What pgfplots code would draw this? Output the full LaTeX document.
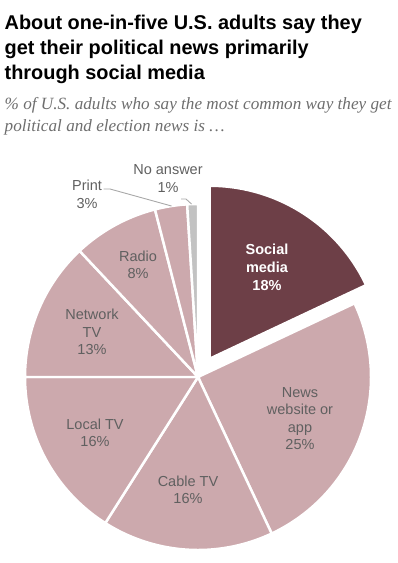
\documentclass[border=0pt]{standalone}
\usepackage{pgfplots}
\pgfplotsset{compat=1.18}
\usepackage{fontspec}
\setmainfont{Liberation Sans}
\newfontfamily\titlefont{Liberation Sans}
\newfontfamily\subfont{Liberation Serif}
\definecolor{piedark}{HTML}{6D3F47}
\definecolor{pielight}{HTML}{CCA9AD}
\definecolor{piegray}{HTML}{C2C2C2}
\definecolor{lblgray}{HTML}{606060}
\definecolor{subgray}{HTML}{6E6E6E}
\definecolor{leader}{HTML}{A8A8A8}
% running start angle (degrees), clockwise from the top
\gdef\cum{90}
\newcommand\pieslice[4]{% value (%), fill colour, dx, dy
  \pgfmathsetmacro\sA{\cum}%
  \pgfmathsetmacro\sB{\cum-3.6*#1}%
  \xdef\cum{\sB}%
  \edef\tmp{\noexpand\addplot[fill=#2, draw=white, line width=2.5pt, domain=\sB:\sA, samples=90]
    ({#3+cos(x)},{#4+sin(x)}) -- (axis cs:#3,#4) -- cycle;}%
  \tmp}
\newcommand\lbl{\fontsize{14.5bp}{17bp}\selectfont}
\newlength\subw
\begin{document}%
\settowidth\subw{\subfont\itshape\fontsize{10bp}{12bp}\selectfont \% of U.S. adults who say the most common way they get}%
\pgfmathsetmacro\subsize{10*388.3/\subw}%
\begin{tikzpicture}
\path[use as bounding box] (0,0) rectangle (398bp,-563bp);
\begin{axis}[at={(198bp,-377bp)}, anchor=center,
  width=346bp, height=346bp, scale only axis,
  xmin=-1, xmax=1, ymin=-1, ymax=1,
  hide axis, clip=false]
\pieslice{18}{piedark}{0.067}{0.1055}% Social media
\pieslice{25}{pielight}{0}{0}% News website or app
\pieslice{16}{pielight}{0}{0}% Cable TV
\pieslice{16}{pielight}{0}{0}% Local TV
\pieslice{13}{pielight}{0}{0}% Network TV
\pieslice{8}{pielight}{0}{0}% Radio
\pieslice{3}{pielight}{0}{0}% Print
\pieslice{1}{piegray}{0}{0}% No answer
\end{axis}
\begin{scope}[x=1bp, y=-1bp]
% title
\node[anchor=base west, inner sep=0, font=\titlefont\bfseries\fontsize{19.9bp}{25bp}\selectfont] at (4.5,29) {About one-in-five U.S. adults say they};
\node[anchor=base west, inner sep=0, font=\titlefont\bfseries\fontsize{19.9bp}{25bp}\selectfont] at (4.5,54) {get their political news primarily};
\node[anchor=base west, inner sep=0, font=\titlefont\bfseries\fontsize{19.9bp}{25bp}\selectfont] at (4.5,79) {through social media};
% subtitle
\node[anchor=base west, inner sep=0, text=subgray, font=\subfont\itshape\fontsize{\subsize bp}{22bp}\selectfont] at (4.5,109) {\% of U.S. adults who say the most common way they get};
\node[anchor=base west, inner sep=0, text=subgray, font=\subfont\itshape\fontsize{\subsize bp}{22bp}\selectfont] at (4.5,131) {political and election news is \dots};
% slice labels
\begin{scope}[every node/.style={anchor=base, inner sep=0, font=\lbl, text=lblgray}]
\node[text=white, font=\lbl\bfseries] at (267,254) {Social};
\node[text=white, font=\lbl\bfseries] at (267,272) {media};
\node[text=white, font=\lbl\bfseries] at (267,290) {18\%};
\node at (300,397) {News};
\node at (300,414) {website or};
\node at (300,432) {app};
\node at (300,449) {25\%};
\node at (188,486) {Cable TV};
\node at (188,503) {16\%};
\node at (95,429) {Local TV};
\node at (95,446) {16\%};
\node at (92,319) {Network};
\node at (92,337) {TV};
\node at (92,354) {13\%};
\node at (138,261) {Radio};
\node at (138,278) {8\%};
\node at (87,190) {Print};
\node at (87,208) {3\%};
\node at (168,174) {No answer};
\node at (168,192) {1\%};
\end{scope}
% leader lines
\draw[leader, line width=0.9bp] (103.5,189) -- (110,189) -- (171.5,206);
\draw[leader, line width=0.9bp] (181,199) -- (186,199) -- (191.5,204);
\end{scope}
\end{tikzpicture}%
\end{document}
